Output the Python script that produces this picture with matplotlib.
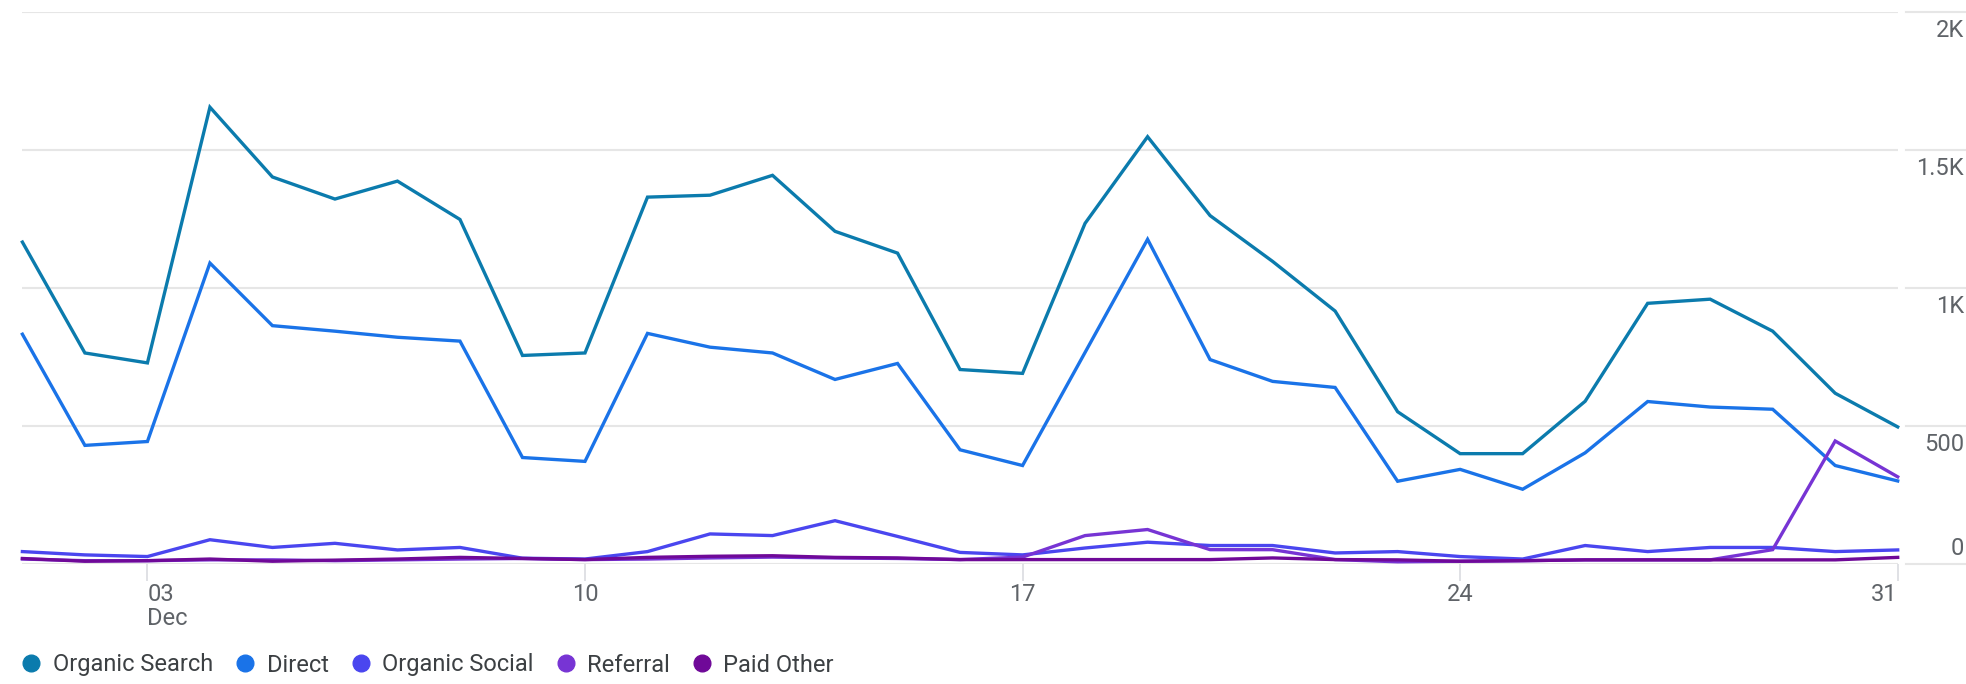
import matplotlib.pyplot as plt
import matplotlib.transforms as mtransforms
from matplotlib.lines import Line2D

# Roboto like the GA4 chart, DejaVu as fallback
plt.rcParams['font.family'] = ['Roboto', 'DejaVu Sans']

# data (December, daily sessions)
days = list(range(1, 32))
organic_search = [1167, 765, 729, 1656, 1403, 1323, 1388, 1249, 756, 765, 1330,
                  1337, 1409, 1206, 1127, 705, 691, 1235, 1549, 1263, 1097, 917,
                  552, 400, 400, 590, 945, 960, 844, 619, 497]
direct = [833, 430, 444, 1091, 864, 844, 822, 808, 386, 372, 836,
          786, 765, 669, 727, 414, 357, 767, 1177, 741, 662, 640,
          300, 343, 271, 403, 589, 569, 561, 357, 301]
organic_social = [45, 33, 27, 88, 60, 75, 51, 60, 21, 18, 45,
                  109, 103, 157, 100, 42, 33, 58, 79, 67, 67, 40,
                  45, 27, 18, 67, 45, 60, 60, 45, 51]
referral = [18, 12, 12, 15, 15, 12, 15, 18, 20, 16, 18,
            22, 25, 22, 20, 16, 25, 103, 125, 52, 52, 16,
            8, 10, 12, 15, 15, 15, 52, 446, 316]
paid_other = [20, 10, 12, 18, 10, 14, 18, 24, 20, 16, 24,
              28, 30, 24, 22, 16, 16, 16, 16, 16, 22, 16,
              15, 10, 12, 15, 15, 15, 15, 15, 24]

series_names = ['Organic Search', 'Direct', 'Organic Social', 'Referral', 'Paid Other']
series_colors = ['#0b7bad', '#1a73e8', '#4a46ef', '#7734d4', '#6f0998']

x_ticks = [3, 10, 17, 24, 31]
x_tick_labels = ['03\nDec', '10', '17', '24', '31']
y_ticks = [0, 500, 1000, 1500, 2000]
y_tick_labels = ['0', '500', '1K', '1.5K', '2K']

GRID = '#e6e6e6'
TEXT = '#5f6368'
FS = 17


def main():
    W, H = 1966, 684
    fig = plt.figure(figsize=(W / 100, H / 100), dpi=100)
    # plot area in pixels: x 22..1898, y 12..564 (from the top)
    ax = fig.add_axes([22.4 / W, (H - 564) / H, (1897.7 - 22.4) / W, (564 - 12.3) / H])

    all_values = [organic_search, direct, organic_social, referral, paid_other]
    for values, name, color in zip(all_values, series_names, series_colors):
        ax.plot(days, values, color=color, lw=2.4, label=name,
                solid_joinstyle='miter', clip_on=False)

    ax.set_xlim(1, 31)
    ax.set_ylim(0, 2000)
    for s in ax.spines.values():
        s.set_visible(False)

    # horizontal grid
    ax.set_yticks(y_ticks)
    ax.yaxis.grid(True, color=GRID, lw=1.5)
    ax.set_axisbelow(True)
    ax.tick_params(axis='y', length=0, labelleft=False)

    # x ticks
    ax.set_xticks(x_ticks)
    ax.set_xticklabels(x_tick_labels)
    ax.tick_params(axis='x', length=12, width=1.2, color='#dadce0', pad=2,
                   labelsize=FS, labelcolor=TEXT)
    labels = ax.get_xticklabels()
    labels[0].set_ha('left')
    labels[0].set_multialignment('left')
    labels[0].set_linespacing(1.05)
    labels[-1].set_ha('right')

    # y labels on the right, with their own short grid segment
    blend = mtransforms.blended_transform_factory(fig.transFigure, ax.transData)
    for v, lab in zip(y_ticks, y_tick_labels):
        fig.add_artist(Line2D([1905.7 / W, 1.0], [v, v], transform=blend,
                              color=GRID, lw=1.5))
        if v == 0:
            dy = 9 / 100
        else:
            dy = -25 / 100
        tr = blend + mtransforms.ScaledTranslation(0, dy, fig.dpi_scale_trans)
        fig.text(0.999, v, lab, transform=tr, ha='right', va='baseline',
                 fontsize=FS, color=TEXT)

    # legend with round markers
    handles = [Line2D([], [], ls='none', marker='o', ms=12, color=c) for c in series_colors]
    fig.legend(handles, series_names, loc='center left',
               bbox_to_anchor=(22 / W, 1 - 665 / H), ncol=5, frameon=False,
               handlelength=0.8, handletextpad=0.5, columnspacing=0.97,
               borderpad=0, borderaxespad=0, fontsize=FS, labelcolor='#3c4043')

    fig.savefig('out.png', dpi=100)


if __name__ == '__main__':
    main()
